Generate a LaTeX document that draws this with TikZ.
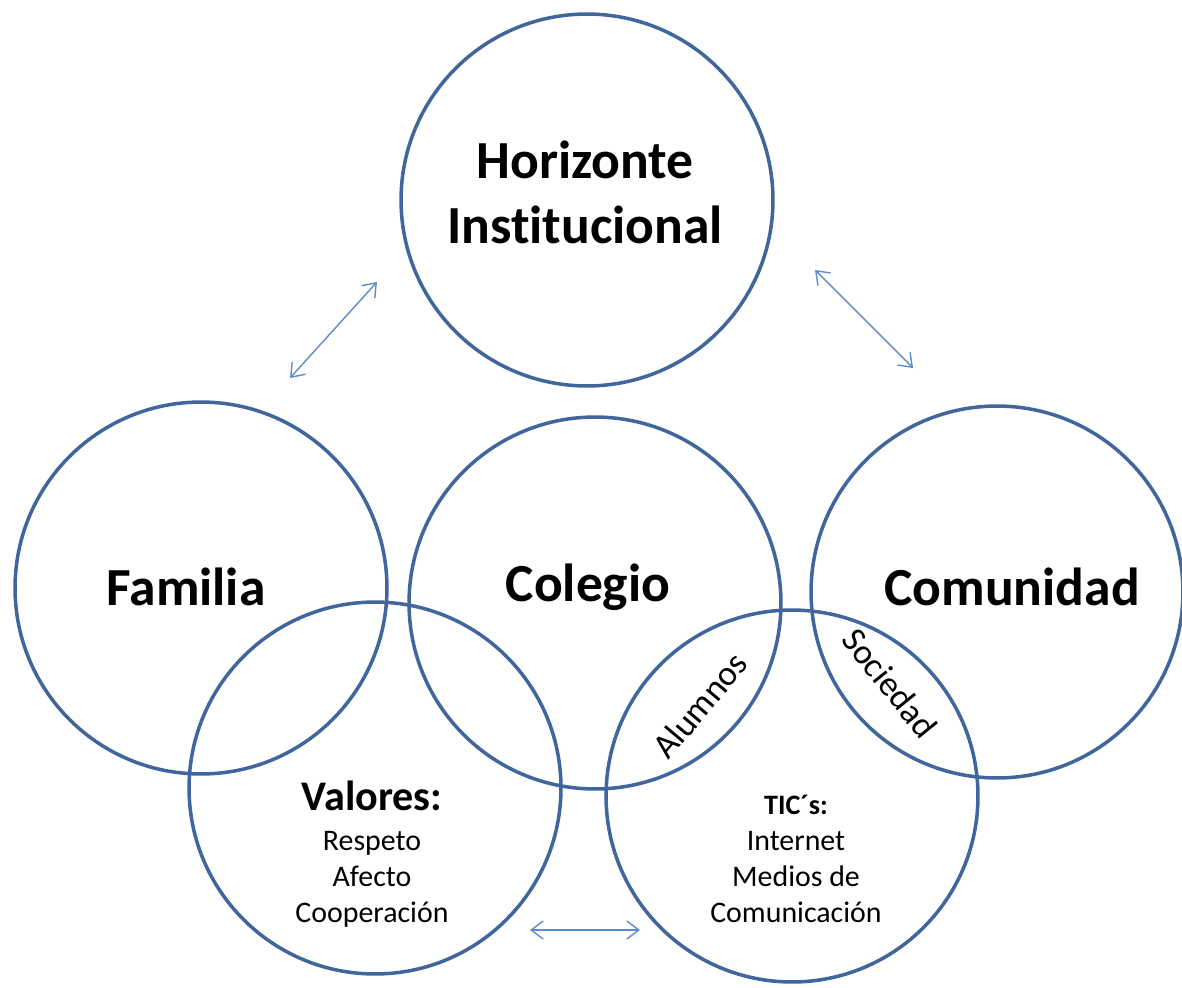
\documentclass[tikz,border=0pt]{standalone}
\usepackage{fontspec}
\setmainfont{Carlito}[Ligatures={NoCommon}]
\usepackage{tikz}
\definecolor{ringblue}{RGB}{65, 102, 155}
\definecolor{linkblue}{RGB}{95, 140, 200}
\usetikzlibrary{positioning,arrows.meta}

\begin{document}
\begin{tikzpicture}[x=0.02cm, y=-0.02cm,
    ring/.style={circle, draw=ringblue, line width=2pt, minimum size=7.44cm, inner sep=0pt},
    link/.style={{Straight Barb[length=2.4mm, width=3.6mm]}-{Straight Barb[length=2.4mm, width=3.6mm]}, line width=0.8pt, linkblue},
    big/.style={font=\fontsize{30.5}{37}\selectfont\bfseries, align=center},
    small/.style={font=\fontsize{17}{20.5}\selectfont, align=center},
    tilted/.style={font=\fontsize{20}{24}\selectfont}]
    \useasboundingbox (0,0) rectangle (1182,987);

    % Circles
    \node[ring] (hor) at (587,200) {};
    \node[ring] (fam) at (201,588) {};
    \node[ring] (col) at (595,603) {};
    \node[ring] (com) at (997,592) {};
    \node[ring] (val) at (375,788) {};
    \node[ring] (tic) at (792,796) {};

    % Titles
    \node[big] (horlab) at (585,192) {Horizonte\\Institucional};
    \node[big] (famlab) at (186,587) {Familia};
    \node[big] (collab) at (588,587) {Colegio};
    \node[big] (comlab) at (1012,587) {Comunidad};

    % Inner texts
    \node[small] (vallab) at (372,854) {{\fontsize{24}{26}\selectfont\bfseries Valores:}\\[2pt]Respeto\\Afecto\\Cooperación};
    \node[small] (ticlab) at (796,859) {{\fontsize{16}{20}\selectfont\bfseries TIC´s:}\\Internet\\Medios de\\Comunicación};
    \node[tilted, rotate=50] (alu) at (700,705) {Alumnos};
    \node[tilted, rotate=-51] (soc) at (890,683) {Sociedad};

    % Arrows
    \coordinate (a1) at (290,378);
    \coordinate (a2) at (377,282);
    \coordinate (b1) at (815,270);
    \coordinate (b2) at (913,368);
    \coordinate (c1) at (530,930);
    \coordinate (c2) at (640,930);
    \draw[link] (a1) -- (a2);
    \draw[link] (b1) -- (b2);
    \draw[link] (c1) -- (c2);
\end{tikzpicture}
\end{document}
